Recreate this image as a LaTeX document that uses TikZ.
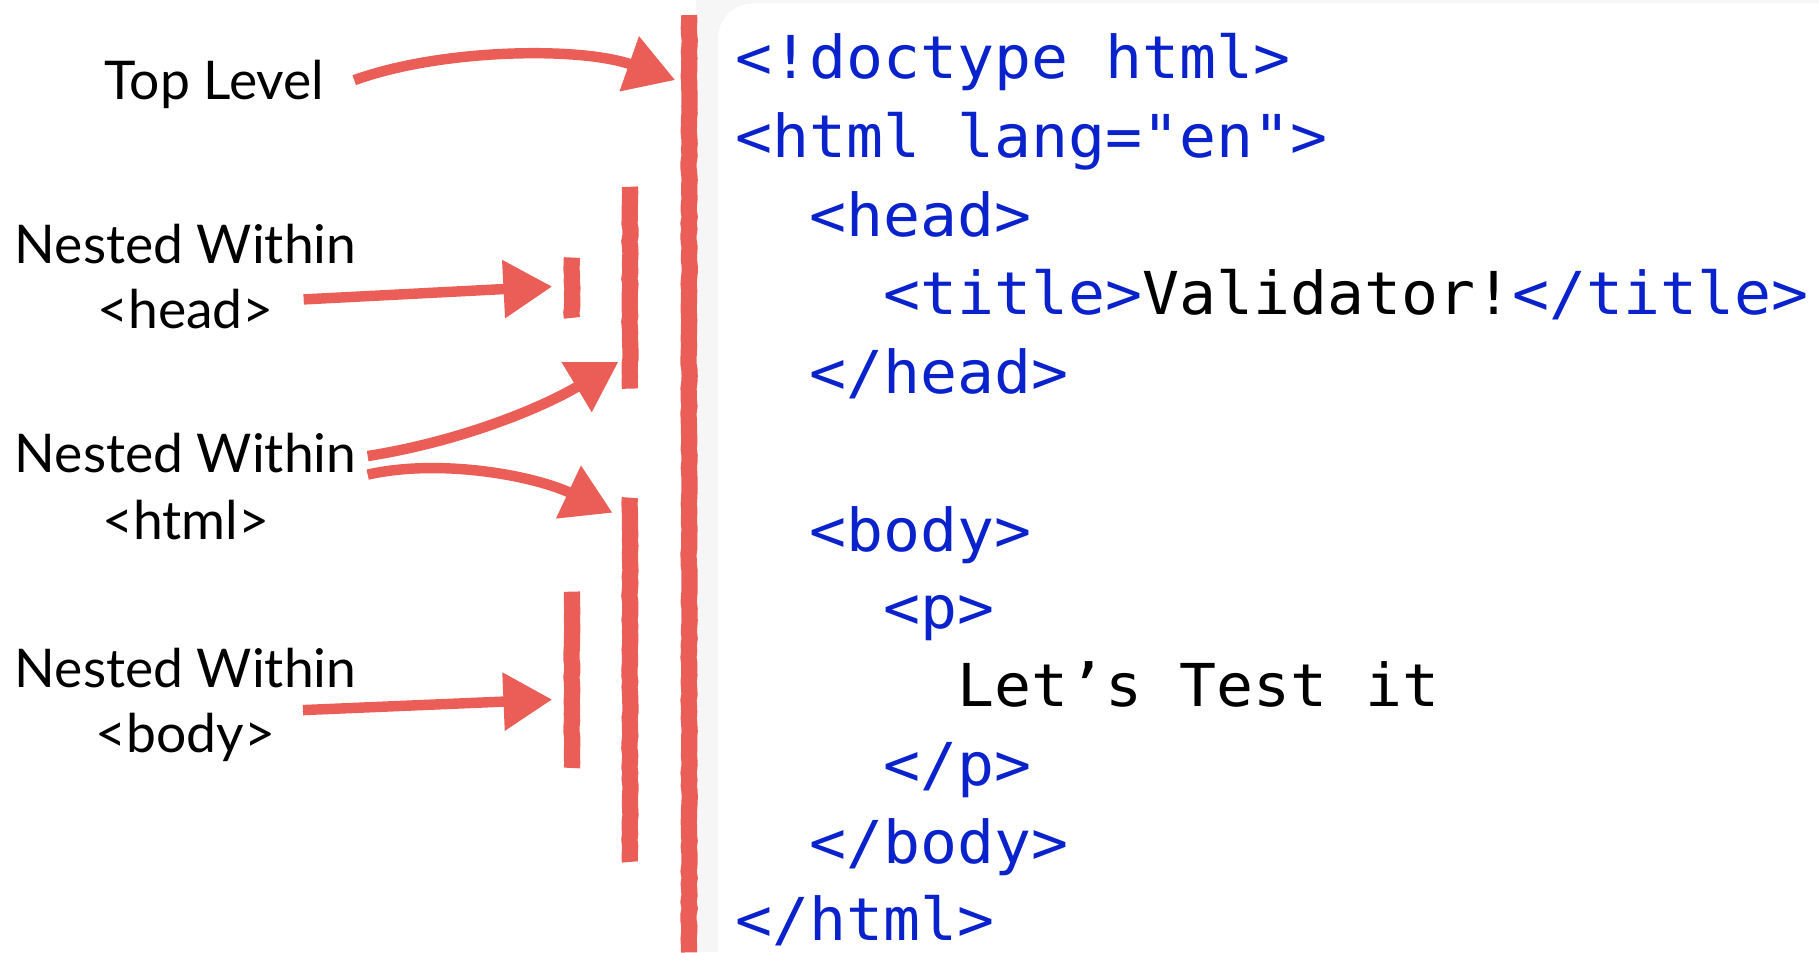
\documentclass[tikz,border=0pt]{standalone}
\usepackage{fontspec}
\setmainfont{Lato}
\newfontfamily\codefont[FakeStretch=1.04]{DejaVu Sans Mono}
\usetikzlibrary{arrows.meta,decorations.pathmorphing}
\definecolor{crayon}{HTML}{EB5E57}
\definecolor{tagblue}{HTML}{0A22CC}
\tikzset{>={Triangle[length=4.2mm,width=4.8mm]}}
\tikzset{
  lbl/.style={font=\fontsize{13.1}{15}\selectfont, inner sep=0pt, anchor=base},
  code/.style={font=\codefont\fontsize{14.5}{17}\selectfont, inner sep=0pt, anchor=base west, text=tagblue},
  bar/.style={crayon, line width=1.4mm, decorate, decoration={random steps, segment length=1.5pt, amplitude=0.15pt}},
  pointer/.style={crayon, line width=0.9mm, ->},
}
\pgfmathsetseed{7}

\begin{document}
\begin{tikzpicture}[x=0.1mm, y=-0.1mm]
    \useasboundingbox (0,0) rectangle (1568,821);
    % code panel
    \fill[gray!7] (600,0) rectangle (1568,821);
    \fill[white, rounded corners=3mm] (619,3) rectangle (1620,900);

    % the markup
    \node[code] (l1) at (633,68) {<!doctype html>};
    \node[code] (l2) at (633,136) {<html lang="en">};
    \node[code] (l3) at (697,204) {<head>};
    \node[code] (l4) at (761,271) {<title>\textcolor{black}{Validator!}</title>};
    \node[code] (l5) at (697,339) {</head>};
    \node[code] (l6) at (697,475) {<body>};
    \node[code] (l7) at (761,542) {<p>};
    \node[code, text=black] (l8) at (825,609) {Let’s Test it};
    \node[code] (l9) at (761,677) {</p>};
    \node[code] (l10) at (697,744) {</body>};
    \node[code] (l11) at (633,811) {</html>};

    % nesting bars
    \draw[bar] (594,13) -- (594,821);
    \draw[bar] (543,161) -- (543,335);
    \draw[bar] (543,429) -- (543,743);
    \draw[bar] (493,222) -- (493,274);
    \draw[bar] (493,510) -- (493,662);

    % labels
    \node[lbl] (toplbl) at (185,86) {Top Level};
    \node[lbl] (headnest) at (160,227) {Nested Within};
    \node[lbl] (headtag) at (160,283) {<head>};
    \node[lbl] (htmlnest) at (160,407) {Nested Within};
    \node[lbl] (htmltag) at (160,465) {<html>};
    \node[lbl] (bodynest) at (160,593) {Nested Within};
    \node[lbl] (bodytag) at (160,649) {<body>};

    \coordinate (toptip) at (582,69);
    \coordinate (headtip) at (476,247);
    \coordinate (htmltipa) at (533,312);
    \coordinate (htmltipb) at (528,442);
    \coordinate (bodytip) at (476,603);

    \draw[pointer] ([xshift=2.5mm,yshift=0.8mm]toplbl.mid east)
        .. controls (380,42) and (500,40) .. (toptip);
    \draw[pointer] ([xshift=2.5mm,yshift=1.6mm]headtag.mid east) -- (headtip);
    \draw[pointer] ([xshift=0.9mm,yshift=0.5mm]htmlnest.mid east)
        .. controls (400,380) and (470,350) .. (htmltipa);
    \draw[pointer] ([xshift=0.9mm,yshift=-1.1mm]htmlnest.mid east)
        .. controls (380,395) and (460,410) .. (htmltipb);
    \draw[pointer] ([xshift=2.3mm,yshift=2.8mm]bodytag.mid east) -- (bodytip);
\end{tikzpicture}
\end{document}
